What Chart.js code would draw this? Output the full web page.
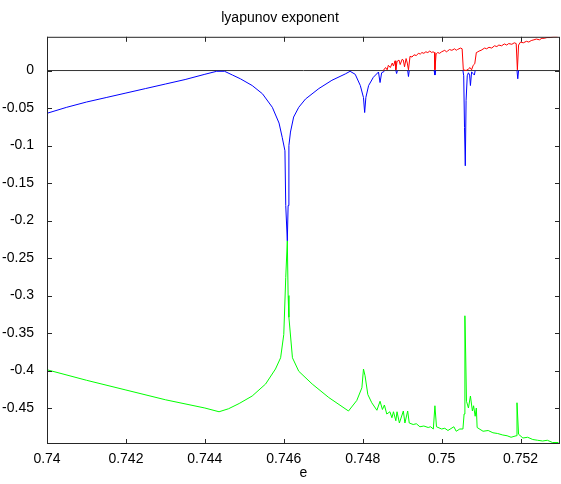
<!DOCTYPE html>
<html>
<head>
<meta charset="utf-8">
<script src="https://cdn.jsdelivr.net/npm/chart.js@4"></script>
<style>
  html, body { margin: 0; padding: 0; background: #fff; }
  #wrap { width: 561px; height: 484px; }
</style>
</head>
<body>
<div id="wrap"><canvas id="lyap" width="561" height="484"></canvas></div>
<script>
// values (e, exponent)
const blueE = [0.7400, 0.7405, 0.7410, 0.7415, 0.7420, 0.7425, 0.7430, 0.7435, 0.7440, 0.7443,
  0.7445, 0.7447, 0.7449, 0.7452, 0.74546, 0.74571, 0.74588, 0.74596, 0.74603, 0.74605,
  0.74609, 0.74611, 0.74613, 0.74617, 0.74625, 0.74638, 0.74655, 0.74689, 0.74722, 0.74756,
  0.74768, 0.74781, 0.74794, 0.74802, 0.74805, 0.74808, 0.74815, 0.74827, 0.74840, 0.74844,
  0.74848, 0.74855, 0.74856,
  0.74884, 0.74886, 0.74888, 0.74889,
  0.74914, 0.74916, 0.74918, 0.74919,
  0.74981, 0.74983, 0.74985, 0.74986,
  0.75054, 0.75056, 0.75058, 0.75060, 0.75062, 0.75065, 0.75068, 0.75071, 0.75073, 0.75076,
  0.75080, 0.75083, 0.75085, 0.75086,
  0.75191, 0.75193, 0.75195];
const blueV = [-0.057, -0.049, -0.042, -0.036, -0.030, -0.024, -0.018, -0.012, -0.005, -0.001,
  -0.001, -0.006, -0.011, -0.020, -0.031, -0.049, -0.070, -0.089, -0.107, -0.180,
  -0.227, -0.180, -0.100, -0.082, -0.062, -0.049, -0.038, -0.024, -0.013, -0.0045,
  -0.001, -0.005, -0.020, -0.036, -0.056, -0.036, -0.020, -0.009, -0.002, -0.016,
  -0.003, -0.001, null,
  0, -0.004, 0, null,
  0, -0.008, 0, null,
  0, -0.006, 0, null,
  0, -0.007, -0.076, -0.127, -0.040, -0.007, -0.003, -0.006, -0.020, -0.002,
  -0.004, -0.006, 0, null,
  0, -0.011, 0];

const redE = [0.74852, 0.74858, 0.74862, 0.74865, 0.74870, 0.74875, 0.74878, 0.74882, 0.74884, 0.74887,
  0.74892, 0.74895, 0.74900, 0.74903, 0.74906, 0.74910, 0.74913, 0.74916, 0.74920, 0.74925,
  0.74930, 0.74936, 0.74941, 0.74946, 0.74950, 0.74955, 0.74960, 0.74965, 0.74970, 0.74975,
  0.74978, 0.74982, 0.74983, 0.74986, 0.74990, 0.74995, 0.75000, 0.75008, 0.75012, 0.75015,
  0.75020, 0.75026, 0.75033, 0.75037, 0.75040, 0.75044, 0.75048, 0.75052, 0.75055, 0.75062,
  0.75068, 0.75072, 0.75076, 0.75080, 0.75084, 0.75088, 0.75092, 0.75095, 0.75100, 0.75109,
  0.75114, 0.75120, 0.75127, 0.75134, 0.75140, 0.75145, 0.75152, 0.75159, 0.75165, 0.75170,
  0.75178, 0.75184, 0.75189, 0.75192, 0.75195, 0.75200, 0.75207, 0.75215, 0.75221, 0.75227,
  0.75234, 0.75240, 0.75248, 0.75254, 0.75260, 0.75267, 0.75275, 0.75284, 0.75294];
const redV = [0, 0.004, 0.001, 0.007, 0.004, 0.010, 0.006, 0.013, 0.001, 0.012,
  0.014, 0.008, 0.015, 0.014, 0.005, 0.016, 0.010, 0.001, 0.019, 0.018,
  0.021, 0.020, 0.023, 0.022, 0.024, 0.023, 0.025, 0.024, 0.026, 0.024,
  0.025, 0.024, 0.001, 0.022, 0.024, 0.023, 0.025, 0.027, 0.025, 0.026,
  0.028, 0.027, 0.029, 0.027, 0.028, 0.029, 0.030, 0.029, 0.001, 0.000,
  0.002, 0.004, 0.001, 0.007, 0.009, 0.024, 0.025, 0.026, 0.027, 0.030,
  0.029, 0.031, 0.030, 0.033, 0.032, 0.034, 0.033, 0.0355, 0.034, 0.036,
  0.035, 0.037, 0.036, 0.001, 0.034, 0.038, 0.037, 0.039, 0.038, 0.040,
  0.041, 0.042, 0.041, 0.043, 0.043, 0.044, 0.044, 0.045, 0.045];

const greenE = [0.7400, 0.7410, 0.7420, 0.7430, 0.7440, 0.74436, 0.74460, 0.74487, 0.74520, 0.74554,
  0.74579, 0.74592, 0.74600, 0.74605, 0.74609, 0.74611, 0.74613, 0.74622, 0.74638, 0.74672,
  0.74714, 0.74764, 0.74785, 0.74798, 0.74802, 0.74806, 0.74813, 0.74823, 0.74836, 0.74844,
  0.74850, 0.74855, 0.74861, 0.74869, 0.74874, 0.74878, 0.74884, 0.74887, 0.74893, 0.74903,
  0.74907, 0.74914, 0.74918, 0.74928, 0.74936, 0.74945, 0.74955, 0.74966, 0.74972, 0.74979,
  0.74983, 0.74987, 0.75000, 0.75008,
  0.75016, 0.75031, 0.75037, 0.75046, 0.75054, 0.75057, 0.75059, 0.75061, 0.75063, 0.75068,
  0.75073, 0.75078, 0.75081, 0.75085, 0.75088, 0.75090, 0.75105, 0.75118, 0.75130, 0.75142,
  0.75155, 0.75166, 0.75176, 0.75189, 0.75191, 0.75195, 0.75206, 0.75218, 0.75231, 0.75243,
  0.75256, 0.75268, 0.75281, 0.75296];
const greenV = [-0.399, -0.413, -0.426, -0.439, -0.450, -0.455, -0.451, -0.444, -0.434, -0.418,
  -0.398, -0.383, -0.352, -0.276, -0.227, -0.300, -0.329, -0.383, -0.401, -0.418,
  -0.436, -0.454, -0.440, -0.423, -0.398, -0.407, -0.432, -0.443, -0.453, -0.441,
  -0.452, -0.446, -0.458, -0.455, -0.463, -0.455, -0.467, -0.455, -0.470, -0.454,
  -0.470, -0.454, -0.470, -0.472, -0.471, -0.475, -0.474, -0.476, -0.475, -0.478,
  -0.447, -0.475, -0.478, -0.477,
  -0.480, -0.475, -0.481, -0.478, -0.478, -0.458, -0.327, -0.378, -0.441, -0.450,
  -0.434, -0.454, -0.447, -0.461, -0.450, -0.476, -0.481, -0.480, -0.483, -0.484,
  -0.486, -0.487, -0.489, -0.487, -0.443, -0.485, -0.490, -0.489, -0.492, -0.493,
  -0.494, -0.493, -0.496, -0.496];

const zeroE = [0.74, 0.753];
const zeroV = [0, 0];

const xTicks = [0.74, 0.742, 0.744, 0.746, 0.748, 0.75, 0.752];
const yTicks = [0, -0.05, -0.1, -0.15, -0.2, -0.25, -0.3, -0.35, -0.4, -0.45];

function pts(xs, ys) {
  return xs.map((x, i) => ({ x: x, y: ys[i] }));
}

const font = { family: '"Liberation Sans", Arial, Helvetica, sans-serif', size: 14 };

// matlab style box with ticks pointing inward
const boxPlugin = {
  id: 'box',
  afterDatasetsDraw(chart) {
    const ctx = chart.ctx;
    const a = chart.chartArea;
    const xs = chart.scales.x, ys = chart.scales.y;
    ctx.save();
    ctx.strokeStyle = '#262626';
    ctx.lineWidth = 1;
    ctx.strokeRect(a.left + 0.5, a.top + 0.5, a.right - a.left - 1, a.bottom - a.top - 1);
    ctx.beginPath();
    xTicks.forEach(v => {
      const p = Math.round(xs.getPixelForValue(v)) + 0.5;
      ctx.moveTo(p, a.bottom); ctx.lineTo(p, a.bottom - 5);
      ctx.moveTo(p, a.top); ctx.lineTo(p, a.top + 5);
    });
    yTicks.forEach(v => {
      const p = Math.round(ys.getPixelForValue(v)) + 0.5;
      ctx.moveTo(a.left, p); ctx.lineTo(a.left + 5, p);
      ctx.moveTo(a.right, p); ctx.lineTo(a.right - 5, p);
    });
    ctx.stroke();
    ctx.restore();
  }
};

const lineDs = (data, color, order) => ({
  data: data,
  borderColor: color,
  borderWidth: 1,
  pointRadius: 0,
  tension: 0,
  spanGaps: false,
  order: order
});

new Chart(document.getElementById('lyap'), {
  type: 'line',
  data: {
    datasets: [
      lineDs(pts(zeroE, zeroV), '#333333', 5),
      lineDs(pts(greenE, greenV), '#00ff00', 3),
      lineDs(pts(redE, redV), '#ff0000', 2),
      lineDs(pts(blueE, blueV), '#0000ff', 1)
    ]
  },
  options: {
    responsive: false,
    animation: false,
    layout: { padding: { top: 0, right: 1, left: 0, bottom: 0 } },
    plugins: {
      legend: { display: false },
      tooltip: { enabled: false },
      title: {
        display: true,
        text: 'lyapunov exponent',
        color: '#000',
        font: { ...font, weight: 'normal' },
        padding: { top: 10, bottom: 10 }
      }
    },
    scales: {
      x: {
        type: 'linear',
        min: 0.74,
        max: 0.753,
        grid: { display: false },
        border: { display: false },
        afterBuildTicks: s => { s.ticks = xTicks.map(v => ({ value: v })); },
        afterFit: s => { s.height = 40; },
        ticks: {
          color: '#000',
          font: font,
          padding: -1,
          maxRotation: 0,
          callback: v => String(Number(v.toFixed(3)))
        },
        title: { display: true, text: 'e', color: '#000', font: font, padding: { top: 0, bottom: 2 } }
      },
      y: {
        min: -0.498,
        max: 0.045,
        grid: { display: false },
        border: { display: false },
        afterBuildTicks: s => { s.ticks = yTicks.map(v => ({ value: v })); },
        afterFit: s => { s.width = 47; },
        ticks: {
          color: '#000',
          font: font,
          padding: 5,
          callback: v => String(Number(v.toFixed(2)))
        }
      }
    }
  },
  plugins: [boxPlugin]
});
</script>
</body>
</html>
